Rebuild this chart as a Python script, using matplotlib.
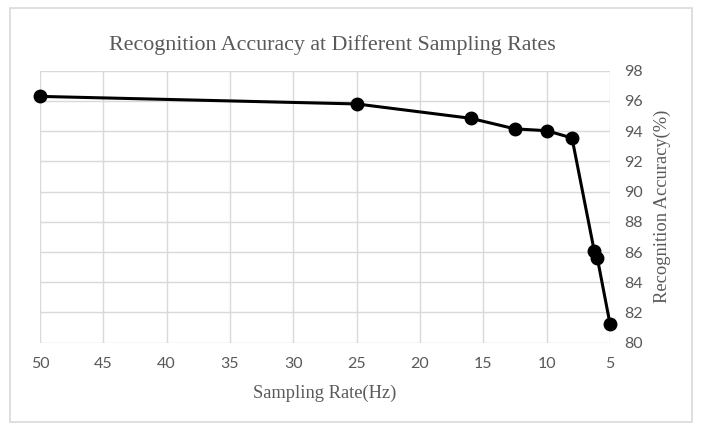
import matplotlib
matplotlib.use('Agg')
import matplotlib.pyplot as plt
from matplotlib.patches import Rectangle

# sampling rate (Hz) and recognition accuracy (%)
rates = [50, 25, 16, 12.5, 10, 8, 6.25, 6, 5]
accuracy = [96.3, 95.8, 94.85, 94.15, 94.03, 93.55, 86.1, 85.6, 81.25]
x_ticks = [50, 45, 40, 35, 30, 25, 20, 15, 10, 5]
y_ticks = [80, 82, 84, 86, 88, 90, 92, 94, 96, 98]

grey_text = '#595959'
grid_col = '#d9d9d9'
serif = 'Liberation Serif'
sans = 'Lato'

fig = plt.figure(figsize=(7.03, 4.34), dpi=100)
ax = fig.add_axes([40 / 703, 1 - 342.7 / 434, 570 / 703, 272 / 434])

ax.plot(rates, accuracy, color='black', lw=2.2, marker='o', ms=9, zorder=3, clip_on=False)

ax.set_xlim(50, 5)
ax.set_ylim(80, 98)
ax.set_xticks(x_ticks)
ax.set_yticks(y_ticks)
ax.grid(True, color=grid_col, lw=1)
ax.set_axisbelow(True)
for s in ax.spines.values():
    s.set_visible(False)

ax.yaxis.tick_right()
ax.yaxis.set_label_position('right')
ax.tick_params(length=0, colors=grey_text, labelsize=11.5)
ax.tick_params(axis='x', pad=10)
ax.tick_params(axis='y', pad=10)
for lab in ax.get_xticklabels() + ax.get_yticklabels():
    lab.set_fontfamily(sans)

ax.set_xlabel('Sampling Rate(Hz)', family=serif, fontsize=13.3, color=grey_text, labelpad=10)
ax.set_ylabel('Recognition Accuracy(%)', family=serif, fontsize=13.3, color=grey_text, labelpad=8)

fig.text(332 / 703, 1 - 45 / 434, 'Recognition Accuracy at Different Sampling Rates',
         family=serif, fontsize=15.8, color=grey_text, ha='center', va='center')

# light frame round the chart
fig.patches.append(Rectangle((10 / 703, 1 - 422 / 434), 682 / 703, 414 / 434,
                             transform=fig.transFigure, fill=False,
                             edgecolor=grid_col, lw=1.2))

fig.savefig('out.png', dpi=100)
